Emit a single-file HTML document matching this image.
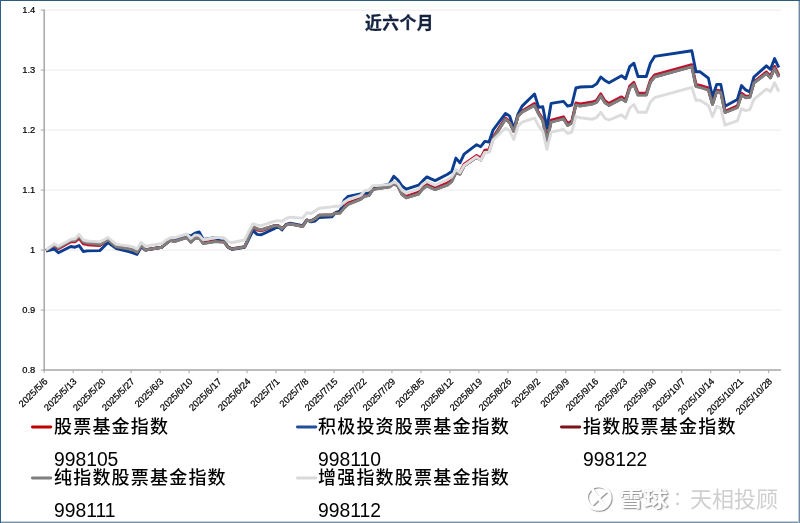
<!DOCTYPE html>
<html lang="zh-CN"><head><meta charset="utf-8"><title>近六个月</title>
<style>
html,body{margin:0;padding:0;background:#fff;}
body{width:800px;height:523px;position:relative;overflow:hidden;font-family:"Liberation Sans","Noto Sans CJK SC",sans-serif;}
.bd{position:absolute;}
#bt{left:0;top:0;width:800px;height:1px;background:#2e5a7c;}
#bl{left:0;top:0;width:1px;height:523px;background:#2f5f86;}
#br1{left:798px;top:1px;width:1px;height:522px;background:#c0cdd8;}
#br2{left:799px;top:0;width:1px;height:523px;background:#6f8aa0;}
#bb1{left:1px;top:521px;width:798px;height:1px;background:#c6d1db;}
#bb2{left:0;top:522px;width:800px;height:1px;background:#7b93a7;}
.yl{font:9.4px "Liberation Sans",sans-serif;fill:#000;stroke:#000;stroke-width:0.2px;}
.xl{font:9.4px "Liberation Sans",sans-serif;fill:#000;stroke:#000;stroke-width:0.22px;}
#title{position:absolute;left:365px;top:12.8px;width:68px;font:bold 16.8px/22px "Liberation Sans","Noto Sans CJK SC",sans-serif;color:#14233f;white-space:nowrap;letter-spacing:0.5px;-webkit-text-stroke:0.35px #14233f;}
.lg{position:absolute;font:19.3px/22px "Liberation Sans","Noto Sans CJK SC",sans-serif;color:#000;white-space:nowrap;}
.lc{position:absolute;font:500 18px/22px "Liberation Sans","Noto Sans CJK SC",sans-serif;color:#000;white-space:nowrap;letter-spacing:1.2px;}
.wm{position:absolute;white-space:nowrap;font-family:"Liberation Sans","Noto Sans CJK SC",sans-serif;}
</style></head><body>
<div class="bd" id="bb1"></div><div class="bd" id="bb2"></div><div class="bd" id="br1"></div><div class="bd" id="br2"></div><div class="bd" id="bt"></div><div class="bd" id="bl"></div>
<svg width="800" height="523" viewBox="0 0 800 523" style="position:absolute;left:0;top:0">
<line x1="44.2" y1="310.10" x2="781.0" y2="310.10" stroke="#ebebeb" stroke-width="1"/>
<line x1="44.2" y1="250.10" x2="781.0" y2="250.10" stroke="#ebebeb" stroke-width="1"/>
<line x1="44.2" y1="190.10" x2="781.0" y2="190.10" stroke="#ebebeb" stroke-width="1"/>
<line x1="44.2" y1="130.10" x2="781.0" y2="130.10" stroke="#ebebeb" stroke-width="1"/>
<line x1="44.2" y1="70.10" x2="781.0" y2="70.10" stroke="#ebebeb" stroke-width="1"/>
<line x1="44.2" y1="10.10" x2="781.0" y2="10.10" stroke="#ebebeb" stroke-width="1"/>
<line x1="44.2" y1="9.60" x2="44.2" y2="370.80" stroke="#a6a6a6" stroke-width="1.5"/>
<line x1="43.5" y1="370.10" x2="781.0" y2="370.10" stroke="#a6a6a6" stroke-width="1.5"/>
<line x1="40.7" y1="370.10" x2="44.2" y2="370.10" stroke="#a6a6a6" stroke-width="1"/>
<text x="35.3" y="373.00" text-anchor="end" class="yl">0.8</text>
<line x1="40.7" y1="310.10" x2="44.2" y2="310.10" stroke="#a6a6a6" stroke-width="1"/>
<text x="35.3" y="313.00" text-anchor="end" class="yl">0.9</text>
<line x1="40.7" y1="250.10" x2="44.2" y2="250.10" stroke="#a6a6a6" stroke-width="1"/>
<text x="35.3" y="253.00" text-anchor="end" class="yl">1</text>
<line x1="40.7" y1="190.10" x2="44.2" y2="190.10" stroke="#a6a6a6" stroke-width="1"/>
<text x="35.3" y="193.00" text-anchor="end" class="yl">1.1</text>
<line x1="40.7" y1="130.10" x2="44.2" y2="130.10" stroke="#a6a6a6" stroke-width="1"/>
<text x="35.3" y="133.00" text-anchor="end" class="yl">1.2</text>
<line x1="40.7" y1="70.10" x2="44.2" y2="70.10" stroke="#a6a6a6" stroke-width="1"/>
<text x="35.3" y="73.00" text-anchor="end" class="yl">1.3</text>
<line x1="40.7" y1="10.10" x2="44.2" y2="10.10" stroke="#a6a6a6" stroke-width="1"/>
<text x="35.3" y="13.00" text-anchor="end" class="yl">1.4</text>
<line x1="44.20" y1="370.10" x2="44.20" y2="373.10" stroke="#a6a6a6" stroke-width="1"/>
<text transform="translate(48.30,382.00) rotate(-45)" text-anchor="end" class="xl">2025/5/6</text>
<line x1="73.18" y1="370.10" x2="73.18" y2="373.10" stroke="#a6a6a6" stroke-width="1"/>
<text transform="translate(77.28,382.00) rotate(-45)" text-anchor="end" class="xl">2025/5/13</text>
<line x1="102.16" y1="370.10" x2="102.16" y2="373.10" stroke="#a6a6a6" stroke-width="1"/>
<text transform="translate(106.26,382.00) rotate(-45)" text-anchor="end" class="xl">2025/5/20</text>
<line x1="131.14" y1="370.10" x2="131.14" y2="373.10" stroke="#a6a6a6" stroke-width="1"/>
<text transform="translate(135.24,382.00) rotate(-45)" text-anchor="end" class="xl">2025/5/27</text>
<line x1="160.12" y1="370.10" x2="160.12" y2="373.10" stroke="#a6a6a6" stroke-width="1"/>
<text transform="translate(164.22,382.00) rotate(-45)" text-anchor="end" class="xl">2025/6/3</text>
<line x1="189.10" y1="370.10" x2="189.10" y2="373.10" stroke="#a6a6a6" stroke-width="1"/>
<text transform="translate(193.20,382.00) rotate(-45)" text-anchor="end" class="xl">2025/6/10</text>
<line x1="218.08" y1="370.10" x2="218.08" y2="373.10" stroke="#a6a6a6" stroke-width="1"/>
<text transform="translate(222.18,382.00) rotate(-45)" text-anchor="end" class="xl">2025/6/17</text>
<line x1="247.06" y1="370.10" x2="247.06" y2="373.10" stroke="#a6a6a6" stroke-width="1"/>
<text transform="translate(251.16,382.00) rotate(-45)" text-anchor="end" class="xl">2025/6/24</text>
<line x1="276.04" y1="370.10" x2="276.04" y2="373.10" stroke="#a6a6a6" stroke-width="1"/>
<text transform="translate(280.14,382.00) rotate(-45)" text-anchor="end" class="xl">2025/7/1</text>
<line x1="305.02" y1="370.10" x2="305.02" y2="373.10" stroke="#a6a6a6" stroke-width="1"/>
<text transform="translate(309.12,382.00) rotate(-45)" text-anchor="end" class="xl">2025/7/8</text>
<line x1="334.00" y1="370.10" x2="334.00" y2="373.10" stroke="#a6a6a6" stroke-width="1"/>
<text transform="translate(338.10,382.00) rotate(-45)" text-anchor="end" class="xl">2025/7/15</text>
<line x1="362.98" y1="370.10" x2="362.98" y2="373.10" stroke="#a6a6a6" stroke-width="1"/>
<text transform="translate(367.08,382.00) rotate(-45)" text-anchor="end" class="xl">2025/7/22</text>
<line x1="391.96" y1="370.10" x2="391.96" y2="373.10" stroke="#a6a6a6" stroke-width="1"/>
<text transform="translate(396.06,382.00) rotate(-45)" text-anchor="end" class="xl">2025/7/29</text>
<line x1="420.94" y1="370.10" x2="420.94" y2="373.10" stroke="#a6a6a6" stroke-width="1"/>
<text transform="translate(425.04,382.00) rotate(-45)" text-anchor="end" class="xl">2025/8/5</text>
<line x1="449.92" y1="370.10" x2="449.92" y2="373.10" stroke="#a6a6a6" stroke-width="1"/>
<text transform="translate(454.02,382.00) rotate(-45)" text-anchor="end" class="xl">2025/8/12</text>
<line x1="478.90" y1="370.10" x2="478.90" y2="373.10" stroke="#a6a6a6" stroke-width="1"/>
<text transform="translate(483.00,382.00) rotate(-45)" text-anchor="end" class="xl">2025/8/19</text>
<line x1="507.88" y1="370.10" x2="507.88" y2="373.10" stroke="#a6a6a6" stroke-width="1"/>
<text transform="translate(511.98,382.00) rotate(-45)" text-anchor="end" class="xl">2025/8/26</text>
<line x1="536.86" y1="370.10" x2="536.86" y2="373.10" stroke="#a6a6a6" stroke-width="1"/>
<text transform="translate(540.96,382.00) rotate(-45)" text-anchor="end" class="xl">2025/9/2</text>
<line x1="565.84" y1="370.10" x2="565.84" y2="373.10" stroke="#a6a6a6" stroke-width="1"/>
<text transform="translate(569.94,382.00) rotate(-45)" text-anchor="end" class="xl">2025/9/9</text>
<line x1="594.82" y1="370.10" x2="594.82" y2="373.10" stroke="#a6a6a6" stroke-width="1"/>
<text transform="translate(598.92,382.00) rotate(-45)" text-anchor="end" class="xl">2025/9/16</text>
<line x1="623.80" y1="370.10" x2="623.80" y2="373.10" stroke="#a6a6a6" stroke-width="1"/>
<text transform="translate(627.90,382.00) rotate(-45)" text-anchor="end" class="xl">2025/9/23</text>
<line x1="652.78" y1="370.10" x2="652.78" y2="373.10" stroke="#a6a6a6" stroke-width="1"/>
<text transform="translate(656.88,382.00) rotate(-45)" text-anchor="end" class="xl">2025/9/30</text>
<line x1="681.76" y1="370.10" x2="681.76" y2="373.10" stroke="#a6a6a6" stroke-width="1"/>
<text transform="translate(685.86,382.00) rotate(-45)" text-anchor="end" class="xl">2025/10/7</text>
<line x1="710.74" y1="370.10" x2="710.74" y2="373.10" stroke="#a6a6a6" stroke-width="1"/>
<text transform="translate(714.84,382.00) rotate(-45)" text-anchor="end" class="xl">2025/10/14</text>
<line x1="739.72" y1="370.10" x2="739.72" y2="373.10" stroke="#a6a6a6" stroke-width="1"/>
<text transform="translate(743.82,382.00) rotate(-45)" text-anchor="end" class="xl">2025/10/21</text>
<line x1="768.70" y1="370.10" x2="768.70" y2="373.10" stroke="#a6a6a6" stroke-width="1"/>
<text transform="translate(772.80,382.00) rotate(-45)" text-anchor="end" class="xl">2025/10/28</text>
<polyline points="46.0,250.5 50.1,248.2 54.3,245.8 58.4,248.8 70.8,241.8 75.0,241.9 79.1,238.1 83.3,243.8 87.4,244.7 99.8,245.6 104.0,243.1 108.1,240.5 112.2,243.9 116.4,247.2 128.8,249.5 132.9,250.6 137.1,252.7 141.2,245.9 145.4,250.0 161.9,247.2 166.1,243.5 170.2,240.4 174.3,241.3 186.8,237.0 190.9,241.0 195.0,237.4 199.2,236.9 203.3,242.7 215.7,240.7 219.9,241.6 224.0,241.7 228.2,247.4 232.3,249.1 244.7,247.0 248.9,237.3 253.0,227.6 257.1,230.1 261.3,230.9 273.7,226.6 277.8,225.7 282.0,229.0 286.1,224.9 290.3,223.8 302.7,226.3 306.8,220.2 311.0,221.2 315.1,219.2 319.2,215.7 331.7,215.4 335.8,213.0 339.9,212.7 344.1,206.5 348.2,202.8 360.6,198.3 364.8,195.6 368.9,195.1 373.1,189.0 377.2,188.4 389.6,186.3 393.8,182.2 397.9,185.0 402.0,192.8 406.2,196.1 418.6,192.2 422.7,187.3 426.9,184.2 431.0,186.0 435.2,187.8 447.6,182.9 451.7,179.5 455.9,170.8 460.0,172.2 464.1,164.1 476.6,155.4 480.7,158.1 484.8,150.1 489.0,149.6 493.1,137.2 505.5,118.0 509.7,121.5 513.8,131.0 518.0,115.7 522.1,110.9 534.5,103.4 538.7,112.8 542.8,118.8 546.9,138.9 551.1,120.1 563.5,116.8 567.6,123.5 571.8,121.0 575.9,103.0 580.1,104.0 592.5,102.0 596.6,100.3 600.8,93.9 604.9,100.8 609.0,103.4 621.5,96.9 625.6,99.6 629.7,86.2 633.9,82.4 638.0,93.1 646.3,93.1 650.4,80.2 654.6,75.0 691.8,64.7 696.0,84.5 700.1,85.3 708.4,87.9 712.5,103.0 716.7,90.2 720.8,90.9 725.0,111.3 737.4,105.9 741.5,93.2 745.7,96.1 749.8,96.2 753.9,81.8 766.4,72.0 770.5,76.2 774.6,66.4 778.8,75.1" fill="none" stroke="#c8102e" stroke-width="2.9" stroke-linejoin="round" stroke-linecap="butt"/>
<polyline points="46.0,251.0 50.1,250.0 54.3,249.0 58.4,252.8 70.8,246.5 75.0,247.2 79.1,245.6 83.3,251.5 87.4,250.9 99.8,250.6 104.0,246.5 108.1,242.5 112.2,245.6 116.4,248.5 128.8,251.5 132.9,252.8 137.1,254.4 141.2,246.9 145.4,250.0 161.9,247.2 166.1,243.5 170.2,240.6 174.3,240.6 186.8,235.0 190.9,236.0 195.0,233.1 199.2,231.9 203.3,239.4 215.7,237.5 219.9,240.6 224.0,241.0 228.2,247.2 232.3,249.4 244.7,247.2 248.9,238.8 253.0,230.6 257.1,234.4 261.3,234.8 273.7,229.0 277.8,226.2 282.0,230.0 286.1,224.4 290.3,223.1 302.7,225.6 306.8,220.0 311.0,221.9 315.1,221.0 319.2,217.5 331.7,216.9 335.8,212.5 339.9,211.2 344.1,200.2 348.2,196.3 360.6,193.9 364.8,193.0 368.9,193.1 373.1,187.5 377.2,186.9 389.6,183.8 393.8,176.2 397.9,180.0 402.0,186.0 406.2,189.2 418.6,185.2 422.7,180.9 426.9,176.9 431.0,178.9 435.2,180.6 447.6,174.2 451.7,171.5 455.9,158.1 460.0,162.8 464.1,154.1 476.6,144.7 480.7,146.7 484.8,141.4 489.0,142.0 493.1,130.0 505.5,113.4 509.7,116.1 513.8,128.8 518.0,114.1 522.1,106.1 534.5,94.0 538.7,107.4 542.8,106.7 546.9,128.2 551.1,103.4 563.5,101.4 567.6,106.1 571.8,105.0 575.9,88.0 580.1,87.0 592.5,86.5 596.6,83.9 600.8,77.0 604.9,80.4 609.0,82.7 621.5,75.8 625.6,78.7 629.7,66.7 633.9,63.2 638.0,76.5 646.3,76.5 650.4,63.2 654.6,56.4 691.8,50.7 696.0,71.8 700.1,71.8 708.4,78.2 712.5,96.8 716.7,84.4 720.8,84.4 725.0,106.3 737.4,99.4 741.5,85.6 745.7,89.9 749.8,92.0 753.9,77.0 766.4,65.8 770.5,69.3 774.6,58.6 778.8,67.5" fill="none" stroke="#0b3d91" stroke-width="2.9" stroke-linejoin="round" stroke-linecap="butt"/>
<polyline points="46.0,250.2 50.1,247.6 54.3,244.8 58.4,247.6 70.8,240.4 75.0,240.4 79.1,236.1 83.3,241.8 87.4,242.9 99.8,244.2 104.0,242.1 108.1,239.8 112.2,243.3 116.4,246.8 128.8,248.8 132.9,249.8 137.1,252.2 141.2,245.4 145.4,249.8 161.9,247.1 166.1,243.3 170.2,240.2 174.3,241.3 186.8,237.3 190.9,242.1 195.0,238.3 199.2,237.9 203.3,243.3 215.7,241.3 219.9,241.8 224.0,241.8 228.2,247.3 232.3,248.8 244.7,246.8 248.9,236.8 253.0,226.8 257.1,228.8 261.3,229.8 273.7,225.8 277.8,225.4 282.0,228.6 286.1,224.8 290.3,223.8 302.7,226.3 306.8,220.1 311.0,220.8 315.1,218.6 319.2,215.2 331.7,214.8 335.8,212.9 339.9,212.9 344.1,207.9 348.2,204.2 360.6,199.2 364.8,196.1 368.9,195.4 373.1,189.2 377.2,188.6 389.6,186.8 393.8,183.6 397.9,186.1 402.0,194.3 406.2,197.7 418.6,193.8 422.7,188.8 426.9,185.8 431.0,187.7 435.2,189.4 447.6,184.8 451.7,181.3 455.9,172.7 460.0,174.0 464.1,165.9 476.6,157.2 480.7,159.9 484.8,151.9 489.0,151.3 493.1,138.8 505.5,119.0 509.7,122.6 513.8,131.3 518.0,115.9 522.1,111.9 534.5,105.2 538.7,113.9 542.8,120.6 546.9,140.8 551.1,121.9 563.5,118.6 567.6,125.3 571.8,122.8 575.9,104.8 580.1,105.8 592.5,103.8 596.6,102.1 600.8,95.8 604.9,102.6 609.0,105.2 621.5,98.8 625.6,101.4 629.7,88.0 633.9,84.2 638.0,94.9 646.3,94.9 650.4,82.0 654.6,76.8 691.8,66.5 696.0,86.3 700.1,87.1 708.4,89.8 712.5,104.3 716.7,91.4 720.8,92.3 725.0,112.3 737.4,107.3 741.5,94.9 745.7,97.5 749.8,97.1 753.9,82.8 766.4,73.4 770.5,77.8 774.6,68.2 778.8,76.8" fill="none" stroke="#7a1418" stroke-width="2.9" stroke-linejoin="round" stroke-linecap="butt"/>
<polyline points="46.0,250.4 50.1,247.8 54.3,245.0 58.4,247.8 70.8,240.6 75.0,240.6 79.1,236.2 83.3,241.9 87.4,243.1 99.8,244.4 104.0,242.2 108.1,240.0 112.2,243.5 116.4,246.9 128.8,249.0 132.9,250.0 137.1,252.3 141.2,245.6 145.4,250.0 161.9,247.2 166.1,243.5 170.2,240.4 174.3,241.5 186.8,237.5 190.9,242.2 195.0,238.5 199.2,238.1 203.3,243.5 215.7,241.5 219.9,241.9 224.0,241.9 228.2,247.5 232.3,249.0 244.7,246.9 248.9,236.9 253.0,226.9 257.1,229.0 261.3,230.0 273.7,226.0 277.8,225.6 282.0,228.8 286.1,225.0 290.3,224.0 302.7,226.5 306.8,220.2 311.0,221.0 315.1,218.8 319.2,215.3 331.7,215.0 335.8,213.1 339.9,213.1 344.1,208.1 348.2,204.4 360.6,199.4 364.8,196.2 368.9,195.6 373.1,189.4 377.2,188.8 389.6,186.9 393.8,183.8 397.9,186.2 402.0,194.5 406.2,197.8 418.6,194.0 422.7,188.9 426.9,186.0 431.0,187.8 435.2,189.6 447.6,184.9 451.7,181.5 455.9,172.8 460.0,174.2 464.1,166.1 476.6,157.4 480.7,160.1 484.8,152.1 489.0,151.5 493.1,139.0 505.5,119.2 509.7,122.8 513.8,131.5 518.0,116.1 522.1,112.1 534.5,105.4 538.7,114.1 542.8,120.8 546.9,140.9 551.1,122.1 563.5,118.8 567.6,125.5 571.8,123.0 575.9,105.0 580.1,106.0 592.5,104.0 596.6,102.3 600.8,95.9 604.9,102.8 609.0,105.4 621.5,98.9 625.6,101.6 629.7,88.2 633.9,84.4 638.0,95.1 646.3,95.1 650.4,82.2 654.6,77.0 691.8,66.7 696.0,86.5 700.1,87.3 708.4,89.9 712.5,104.5 716.7,91.6 720.8,92.5 725.0,112.5 737.4,107.5 741.5,95.1 745.7,97.7 749.8,97.3 753.9,83.0 766.4,73.6 770.5,77.9 774.6,68.4 778.8,77.0" fill="none" stroke="#7f7f7f" stroke-width="2.9" stroke-linejoin="round" stroke-linecap="butt"/>
<polyline points="46.0,249.8 50.1,246.8 54.3,243.8 58.4,246.2 70.8,239.4 75.0,238.8 79.1,234.4 83.3,240.0 87.4,241.0 99.8,241.9 104.0,239.8 108.1,237.5 112.2,241.0 116.4,244.4 128.8,246.0 132.9,246.9 137.1,249.0 141.2,242.5 145.4,246.2 161.9,243.5 166.1,240.0 170.2,237.8 174.3,237.8 186.8,234.0 190.9,238.5 195.0,235.0 199.2,235.6 203.3,239.8 215.7,237.5 219.9,237.5 224.0,237.8 228.2,241.9 232.3,242.5 244.7,240.0 248.9,231.2 253.0,223.8 257.1,225.2 261.3,225.6 273.7,221.5 277.8,220.6 282.0,221.2 286.1,218.5 290.3,217.2 302.7,218.1 306.8,212.8 311.0,213.5 315.1,211.0 319.2,208.3 331.7,206.9 335.8,206.2 339.9,206.2 344.1,202.0 348.2,199.5 360.6,195.5 364.8,190.8 368.9,190.0 373.1,185.6 377.2,185.6 389.6,184.4 393.8,181.9 397.9,183.8 402.0,190.0 406.2,193.3 418.6,188.9 422.7,184.2 426.9,181.5 431.0,183.5 435.2,185.2 447.6,179.5 451.7,176.9 455.9,169.5 460.0,172.6 464.1,165.5 476.6,156.8 480.7,160.1 484.8,152.5 489.0,152.3 493.1,140.0 505.5,128.2 509.7,130.8 513.8,139.5 518.0,126.1 522.1,122.1 534.5,118.1 538.7,126.1 542.8,131.5 546.9,149.5 551.1,132.2 563.5,129.5 567.6,133.5 571.8,132.2 575.9,116.4 580.1,117.8 592.5,119.2 596.6,117.5 600.8,112.3 604.9,118.3 609.0,120.0 621.5,114.9 625.6,118.3 629.7,108.0 633.9,104.5 638.0,112.3 646.3,112.3 650.4,102.0 654.6,97.7 691.8,87.3 696.0,100.2 700.1,100.2 708.4,105.4 712.5,116.6 716.7,106.3 720.8,108.0 725.0,125.2 737.4,120.9 741.5,108.8 745.7,110.6 749.8,109.7 753.9,99.4 766.4,89.1 770.5,91.6 774.6,82.7 778.8,91.6" fill="none" stroke="#dcdcdc" stroke-width="2.9" stroke-linejoin="round" stroke-linecap="butt"/>
<line x1="32.4" y1="427" x2="50.8" y2="427" stroke="#c00000" stroke-width="2.9" stroke-linecap="round"/>
<line x1="297.4" y1="427" x2="315.8" y2="427" stroke="#1f4e9b" stroke-width="2.9" stroke-linecap="round"/>
<line x1="561.4" y1="427" x2="579.8" y2="427" stroke="#7a1418" stroke-width="2.9" stroke-linecap="round"/>
<line x1="32.4" y1="478" x2="50.8" y2="478" stroke="#7f7f7f" stroke-width="2.9" stroke-linecap="round"/>
<line x1="297.4" y1="478" x2="315.8" y2="478" stroke="#d9d9d9" stroke-width="2.9" stroke-linecap="round"/>
</svg>
<div id="title">近六个月</div>
<div class="lc" style="left:54px;top:415.5px;">股票基金指数</div>
<div class="lg" style="left:54px;top:448.5px;">998105</div>
<div class="lc" style="left:318px;top:415.5px;">积极投资股票基金指数</div>
<div class="lg" style="left:318px;top:448.5px;">998110</div>
<div class="lc" style="left:583px;top:415.5px;">指数股票基金指数</div>
<div class="lg" style="left:583px;top:448.5px;">998122</div>
<div class="lc" style="left:54px;top:466.5px;">纯指数股票基金指数</div>
<div class="lg" style="left:54px;top:499.5px;">998111</div>
<div class="lc" style="left:318px;top:466.5px;">增强指数股票基金指数</div>
<div class="lg" style="left:318px;top:499.5px;">998112</div>
<svg width="36" height="36" viewBox="0 0 36 36" style="position:absolute;left:581px;top:480px;">
<defs><filter id="sh" x="-20%" y="-20%" width="150%" height="150%"><feDropShadow dx="1.1" dy="1.1" stdDeviation="0.7" flood-color="#777" flood-opacity="0.75"/></filter></defs>
<g filter="url(#sh)" fill="none" stroke="#fff" stroke-width="2.8" stroke-linecap="round" stroke-linejoin="round">
<circle cx="17.4" cy="17.6" r="11.8"/>
<path d="M11.5 9.5 Q15 16 24.5 26.5"/>
<path d="M26 10.5 Q19 16 12 23.5"/>
</g>
</svg>
<div class="wm" style="left:619px;top:483.5px;font-size:21px;line-height:30px;transform:scaleX(1.17);transform-origin:0 0;font-weight:bold;color:#fff;text-shadow:1px 1px 1.2px #8c8c8c,-0.5px -0.5px 1px #e6e6e6;">雪球</div>
<div class="wm" style="left:674.5px;top:483px;font-size:22px;line-height:30px;color:#c4c4c4;">:</div>
<div class="wm" style="left:690px;top:485px;font-size:22px;line-height:30px;color:#cfcfcf;">天相投顾</div>
</body></html>
